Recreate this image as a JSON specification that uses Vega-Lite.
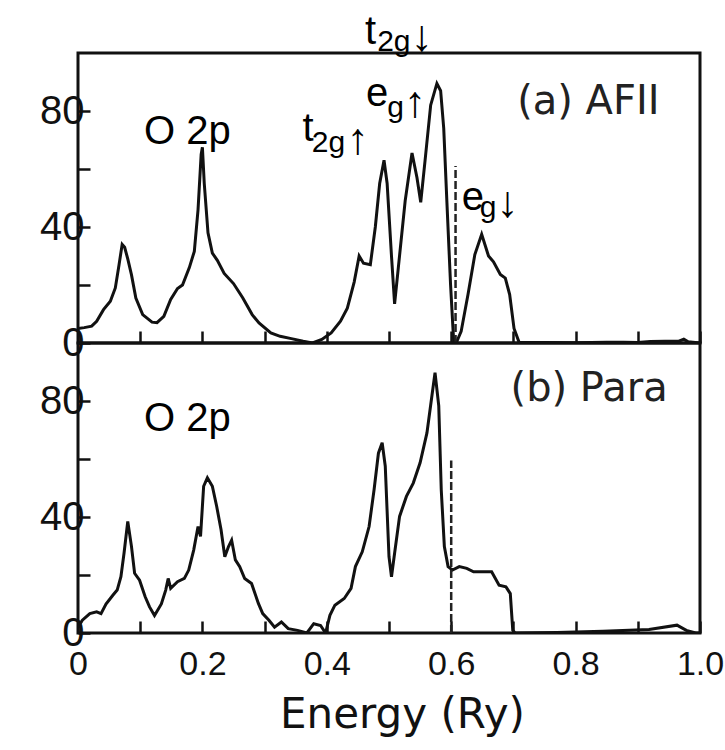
{
  "$schema": "https://vega.github.io/schema/vega-lite/v6.json",
  "background": "white",
  "padding": {"left": 38, "top": 10, "right": 5, "bottom": 5},
  "spacing": 0,
  "bounds": "flush",
  "config": {
    "view": {"stroke": "#111", "strokeWidth": 3},
    "axis": {
      "domain": false,
      "grid": false,
      "tickColor": "#111",
      "tickWidth": 2.5,
      "tickSize": -12,
      "labelFont": "Liberation Sans",
      "labelColor": "#111",
      "titleFont": "DejaVu Sans",
      "titleColor": "#111",
      "titleFontWeight": "normal"
    }
  },
  "datasets": {
    "a": [
      {"e": 0, "dos": 5}, {"e": 0.01, "dos": 5.3}, {"e": 0.022, "dos": 5.8}, {"e": 0.03, "dos": 7.5},
      {"e": 0.041, "dos": 11.5}, {"e": 0.052, "dos": 14.4}, {"e": 0.06, "dos": 19}, {"e": 0.066, "dos": 27},
      {"e": 0.071, "dos": 34}, {"e": 0.075, "dos": 33}, {"e": 0.08, "dos": 29}, {"e": 0.086, "dos": 23.5},
      {"e": 0.093, "dos": 15.5}, {"e": 0.104, "dos": 9.8}, {"e": 0.119, "dos": 7.2}, {"e": 0.127, "dos": 7},
      {"e": 0.138, "dos": 9.2}, {"e": 0.149, "dos": 15}, {"e": 0.16, "dos": 18.8}, {"e": 0.168, "dos": 20},
      {"e": 0.179, "dos": 26}, {"e": 0.187, "dos": 31.6}, {"e": 0.193, "dos": 46}, {"e": 0.198, "dos": 65},
      {"e": 0.2, "dos": 67.5}, {"e": 0.203, "dos": 55}, {"e": 0.209, "dos": 38}, {"e": 0.216, "dos": 31},
      {"e": 0.224, "dos": 28.5}, {"e": 0.235, "dos": 24}, {"e": 0.25, "dos": 20.5}, {"e": 0.265, "dos": 15.5},
      {"e": 0.28, "dos": 9.8}, {"e": 0.291, "dos": 6.9}, {"e": 0.31, "dos": 3.5}, {"e": 0.325, "dos": 2.3},
      {"e": 0.343, "dos": 1.5}, {"e": 0.362, "dos": 0.6}, {"e": 0.377, "dos": 0}, {"e": 0.392, "dos": 1.2},
      {"e": 0.407, "dos": 3.5}, {"e": 0.422, "dos": 7.5}, {"e": 0.433, "dos": 12}, {"e": 0.444, "dos": 21},
      {"e": 0.452, "dos": 30}, {"e": 0.459, "dos": 27.5}, {"e": 0.47, "dos": 27}, {"e": 0.478, "dos": 40},
      {"e": 0.485, "dos": 55}, {"e": 0.492, "dos": 63}, {"e": 0.497, "dos": 55}, {"e": 0.504, "dos": 30},
      {"e": 0.509, "dos": 13.5}, {"e": 0.515, "dos": 26}, {"e": 0.526, "dos": 49}, {"e": 0.537, "dos": 65.5},
      {"e": 0.545, "dos": 57}, {"e": 0.551, "dos": 48.5}, {"e": 0.558, "dos": 63}, {"e": 0.567, "dos": 82},
      {"e": 0.577, "dos": 89.5}, {"e": 0.583, "dos": 87}, {"e": 0.588, "dos": 74}, {"e": 0.593, "dos": 49},
      {"e": 0.599, "dos": 20}, {"e": 0.604, "dos": 0.5}, {"e": 0.608, "dos": 0}, {"e": 0.616, "dos": 4},
      {"e": 0.627, "dos": 16.7}, {"e": 0.638, "dos": 30.5}, {"e": 0.649, "dos": 37.5}, {"e": 0.66, "dos": 30},
      {"e": 0.668, "dos": 28}, {"e": 0.679, "dos": 23.6}, {"e": 0.687, "dos": 22.4}, {"e": 0.694, "dos": 16.7},
      {"e": 0.701, "dos": 5}, {"e": 0.709, "dos": 0.3}, {"e": 0.75, "dos": 0.2}, {"e": 0.8, "dos": 0.1},
      {"e": 0.85, "dos": 0.3}, {"e": 0.877, "dos": 0.3}, {"e": 0.9, "dos": 0.2}, {"e": 0.92, "dos": 0.5},
      {"e": 0.944, "dos": 0.6}, {"e": 0.966, "dos": 0.6}, {"e": 0.974, "dos": 1.3}, {"e": 0.981, "dos": 0.4},
      {"e": 1.0, "dos": 0}
    ],
    "b": [
      {"e": 0, "dos": 2}, {"e": 0.007, "dos": 4.4}, {"e": 0.019, "dos": 6.7}, {"e": 0.03, "dos": 7.3},
      {"e": 0.037, "dos": 6.7}, {"e": 0.045, "dos": 10}, {"e": 0.056, "dos": 13}, {"e": 0.063, "dos": 14.8},
      {"e": 0.069, "dos": 19.4}, {"e": 0.074, "dos": 27.5}, {"e": 0.08, "dos": 38.5}, {"e": 0.086, "dos": 29.8},
      {"e": 0.091, "dos": 20.6}, {"e": 0.099, "dos": 18.2}, {"e": 0.108, "dos": 12.5}, {"e": 0.115, "dos": 9},
      {"e": 0.123, "dos": 6}, {"e": 0.134, "dos": 10}, {"e": 0.141, "dos": 14.8}, {"e": 0.145, "dos": 18.8},
      {"e": 0.149, "dos": 15.4}, {"e": 0.16, "dos": 17.7}, {"e": 0.171, "dos": 18.8}, {"e": 0.178, "dos": 21.7},
      {"e": 0.186, "dos": 28.6}, {"e": 0.193, "dos": 36.7}, {"e": 0.197, "dos": 33.3}, {"e": 0.202, "dos": 50.6},
      {"e": 0.208, "dos": 53.5}, {"e": 0.216, "dos": 50.6}, {"e": 0.223, "dos": 43.6}, {"e": 0.23, "dos": 35.6},
      {"e": 0.236, "dos": 26.3}, {"e": 0.242, "dos": 29.8}, {"e": 0.247, "dos": 32}, {"e": 0.253, "dos": 25.2},
      {"e": 0.26, "dos": 22.9}, {"e": 0.268, "dos": 18.8}, {"e": 0.279, "dos": 17.1}, {"e": 0.29, "dos": 10.2},
      {"e": 0.297, "dos": 6.7}, {"e": 0.307, "dos": 4.4}, {"e": 0.316, "dos": 2}, {"e": 0.327, "dos": 3.8},
      {"e": 0.338, "dos": 1.5}, {"e": 0.353, "dos": 0.9}, {"e": 0.368, "dos": 0}, {"e": 0.379, "dos": 3.2},
      {"e": 0.39, "dos": 2.6}, {"e": 0.398, "dos": 0}, {"e": 0.405, "dos": 6.1}, {"e": 0.413, "dos": 9.6},
      {"e": 0.428, "dos": 11.9}, {"e": 0.439, "dos": 15.4}, {"e": 0.446, "dos": 22.9}, {"e": 0.457, "dos": 28},
      {"e": 0.468, "dos": 36.7}, {"e": 0.476, "dos": 49.4}, {"e": 0.483, "dos": 62}, {"e": 0.489, "dos": 65.6},
      {"e": 0.494, "dos": 57.5}, {"e": 0.5, "dos": 26.3}, {"e": 0.504, "dos": 19.4}, {"e": 0.509, "dos": 27.5},
      {"e": 0.517, "dos": 40.2}, {"e": 0.528, "dos": 47.1}, {"e": 0.539, "dos": 51.7}, {"e": 0.55, "dos": 58.7},
      {"e": 0.561, "dos": 69}, {"e": 0.569, "dos": 81.8}, {"e": 0.574, "dos": 89.8}, {"e": 0.58, "dos": 78.3},
      {"e": 0.584, "dos": 49.4}, {"e": 0.589, "dos": 29.8}, {"e": 0.595, "dos": 22.9}, {"e": 0.602, "dos": 21.7},
      {"e": 0.613, "dos": 22.9}, {"e": 0.625, "dos": 22.3}, {"e": 0.636, "dos": 21.1}, {"e": 0.665, "dos": 21.1},
      {"e": 0.677, "dos": 16.5}, {"e": 0.688, "dos": 15.9}, {"e": 0.695, "dos": 13.6}, {"e": 0.699, "dos": 0.9},
      {"e": 0.703, "dos": 0}, {"e": 0.77, "dos": 0.2}, {"e": 0.844, "dos": 0.6}, {"e": 0.918, "dos": 1.2},
      {"e": 0.963, "dos": 2.7}, {"e": 0.978, "dos": 0.9}, {"e": 0.993, "dos": 0}, {"e": 1.0, "dos": 0}
    ],
    "fermiA": [{"e": 0.607, "y0": 0, "y1": 61}],
    "fermiB": [{"e": 0.6, "y0": 0, "y1": 59.5}],
    "mainA": [
      {"e": 0.106, "y": 68.5, "label": "O 2p"},
      {"e": 0.361, "y": 69.5, "label": "t"},
      {"e": 0.463, "y": 81.7, "label": "e"},
      {"e": 0.4615, "y": 103.1, "label": "t"},
      {"e": 0.617, "y": 46, "label": "e"}
    ],
    "subA": [
      {"e": 0.376, "y": 65.7, "label": "2g"},
      {"e": 0.497, "y": 77.9, "label": "g"},
      {"e": 0.481, "y": 100.7, "label": "2g"},
      {"e": 0.646, "y": 43.3, "label": "g"}
    ],
    "arrowA": [
      {"e": 0.432, "y": 65.2, "label": "↑"},
      {"e": 0.524, "y": 77.9, "label": "↑"},
      {"e": 0.535, "y": 100.7, "label": "↓"},
      {"e": 0.673, "y": 43.3, "label": "↓"}
    ],
    "mainB": [
      {"e": 0.106, "y": 69.5, "label": "O 2p"}
    ],
    "tagA": [{"e": 0.935, "y": 79, "label": "(a) AFII"}],
    "tagB": [{"e": 0.948, "y": 80, "label": "(b) Para"}]
  },
  "vconcat": [
    {
      "width": 622,
      "height": 290,
      "layer": [
        {
          "data": {"name": "a"},
          "mark": {"type": "line", "color": "#111", "strokeWidth": 3, "clip": true},
          "encoding": {
            "x": {"field": "e", "type": "quantitative",
              "scale": {"domain": [0, 1], "nice": false},
              "axis": {"values": [0, 0.1, 0.2, 0.3, 0.4, 0.5, 0.6, 0.7, 0.8, 0.9, 1.0], "labels": false, "title": null}},
            "y": {"field": "dos", "type": "quantitative",
              "scale": {"domain": [0, 100], "nice": false},
              "axis": {"values": [0, 20, 40, 60, 80], "title": null, "labelFontSize": 40, "labelPadding": 6,
                "labelExpr": "datum.value % 40 === 0 ? datum.label : ''"}}
          }
        },
        {
          "data": {"name": "fermiA"},
          "mark": {"type": "rule", "color": "#222", "strokeWidth": 2.5, "strokeDash": [8, 3]},
          "encoding": {
            "x": {"field": "e", "type": "quantitative"},
            "y": {"field": "y0", "type": "quantitative"},
            "y2": {"field": "y1"}
          }
        },
        {
          "data": {"name": "mainA"},
          "mark": {"type": "text", "font": "Liberation Sans", "fontSize": 40, "align": "left", "baseline": "alphabetic", "color": "#000"},
          "encoding": {
            "x": {"field": "e", "type": "quantitative"},
            "y": {"field": "y", "type": "quantitative"},
            "text": {"field": "label"}
          }
        },
        {
          "data": {"name": "subA"},
          "mark": {"type": "text", "font": "Liberation Sans", "fontSize": 30, "align": "left", "baseline": "alphabetic", "color": "#000"},
          "encoding": {
            "x": {"field": "e", "type": "quantitative"},
            "y": {"field": "y", "type": "quantitative"},
            "text": {"field": "label"}
          }
        },
        {
          "data": {"name": "arrowA"},
          "mark": {"type": "text", "font": "Liberation Sans", "fontSize": 44, "align": "left", "baseline": "alphabetic", "color": "#000"},
          "encoding": {
            "x": {"field": "e", "type": "quantitative"},
            "y": {"field": "y", "type": "quantitative"},
            "text": {"field": "label"}
          }
        },
        {
          "data": {"name": "tagA"},
          "mark": {"type": "text", "font": "DejaVu Sans", "fontSize": 40, "align": "right", "baseline": "alphabetic", "color": "#222"},
          "encoding": {
            "x": {"field": "e", "type": "quantitative"},
            "y": {"field": "y", "type": "quantitative"},
            "text": {"field": "label"}
          }
        }
      ]
    },
    {
      "width": 622,
      "height": 290,
      "layer": [
        {
          "data": {"name": "b"},
          "mark": {"type": "line", "color": "#111", "strokeWidth": 3, "clip": true},
          "encoding": {
            "x": {"field": "e", "type": "quantitative",
              "scale": {"domain": [0, 1], "nice": false},
              "axis": {"values": [0, 0.1, 0.2, 0.3, 0.4, 0.5, 0.6, 0.7, 0.8, 0.9, 1.0], "title": "Energy (Ry)",
                "labelFontSize": 34, "labelPadding": 26, "titleFontSize": 42, "titlePadding": 13, "titleX": 324,
                "labelFlush": false, "labelOverlap": false,
                "labelExpr": "round(datum.value * 10) % 2 === 0 ? (datum.value === 0 ? '0' : format(datum.value, '.1f')) : ''"}},
            "y": {"field": "dos", "type": "quantitative",
              "scale": {"domain": [0, 100], "nice": false},
              "axis": {"values": [0, 20, 40, 60, 80], "title": null, "labelFontSize": 40, "labelPadding": 6,
                "labelExpr": "datum.value % 40 === 0 ? datum.label : ''"}}
          }
        },
        {
          "data": {"name": "fermiB"},
          "mark": {"type": "rule", "color": "#222", "strokeWidth": 2.5, "strokeDash": [8, 3]},
          "encoding": {
            "x": {"field": "e", "type": "quantitative"},
            "y": {"field": "y0", "type": "quantitative"},
            "y2": {"field": "y1"}
          }
        },
        {
          "data": {"name": "mainB"},
          "mark": {"type": "text", "font": "Liberation Sans", "fontSize": 40, "align": "left", "baseline": "alphabetic", "color": "#000"},
          "encoding": {
            "x": {"field": "e", "type": "quantitative"},
            "y": {"field": "y", "type": "quantitative"},
            "text": {"field": "label"}
          }
        },
        {
          "data": {"name": "tagB"},
          "mark": {"type": "text", "font": "DejaVu Sans", "fontSize": 40, "align": "right", "baseline": "alphabetic", "color": "#222"},
          "encoding": {
            "x": {"field": "e", "type": "quantitative"},
            "y": {"field": "y", "type": "quantitative"},
            "text": {"field": "label"}
          }
        }
      ]
    }
  ]
}
